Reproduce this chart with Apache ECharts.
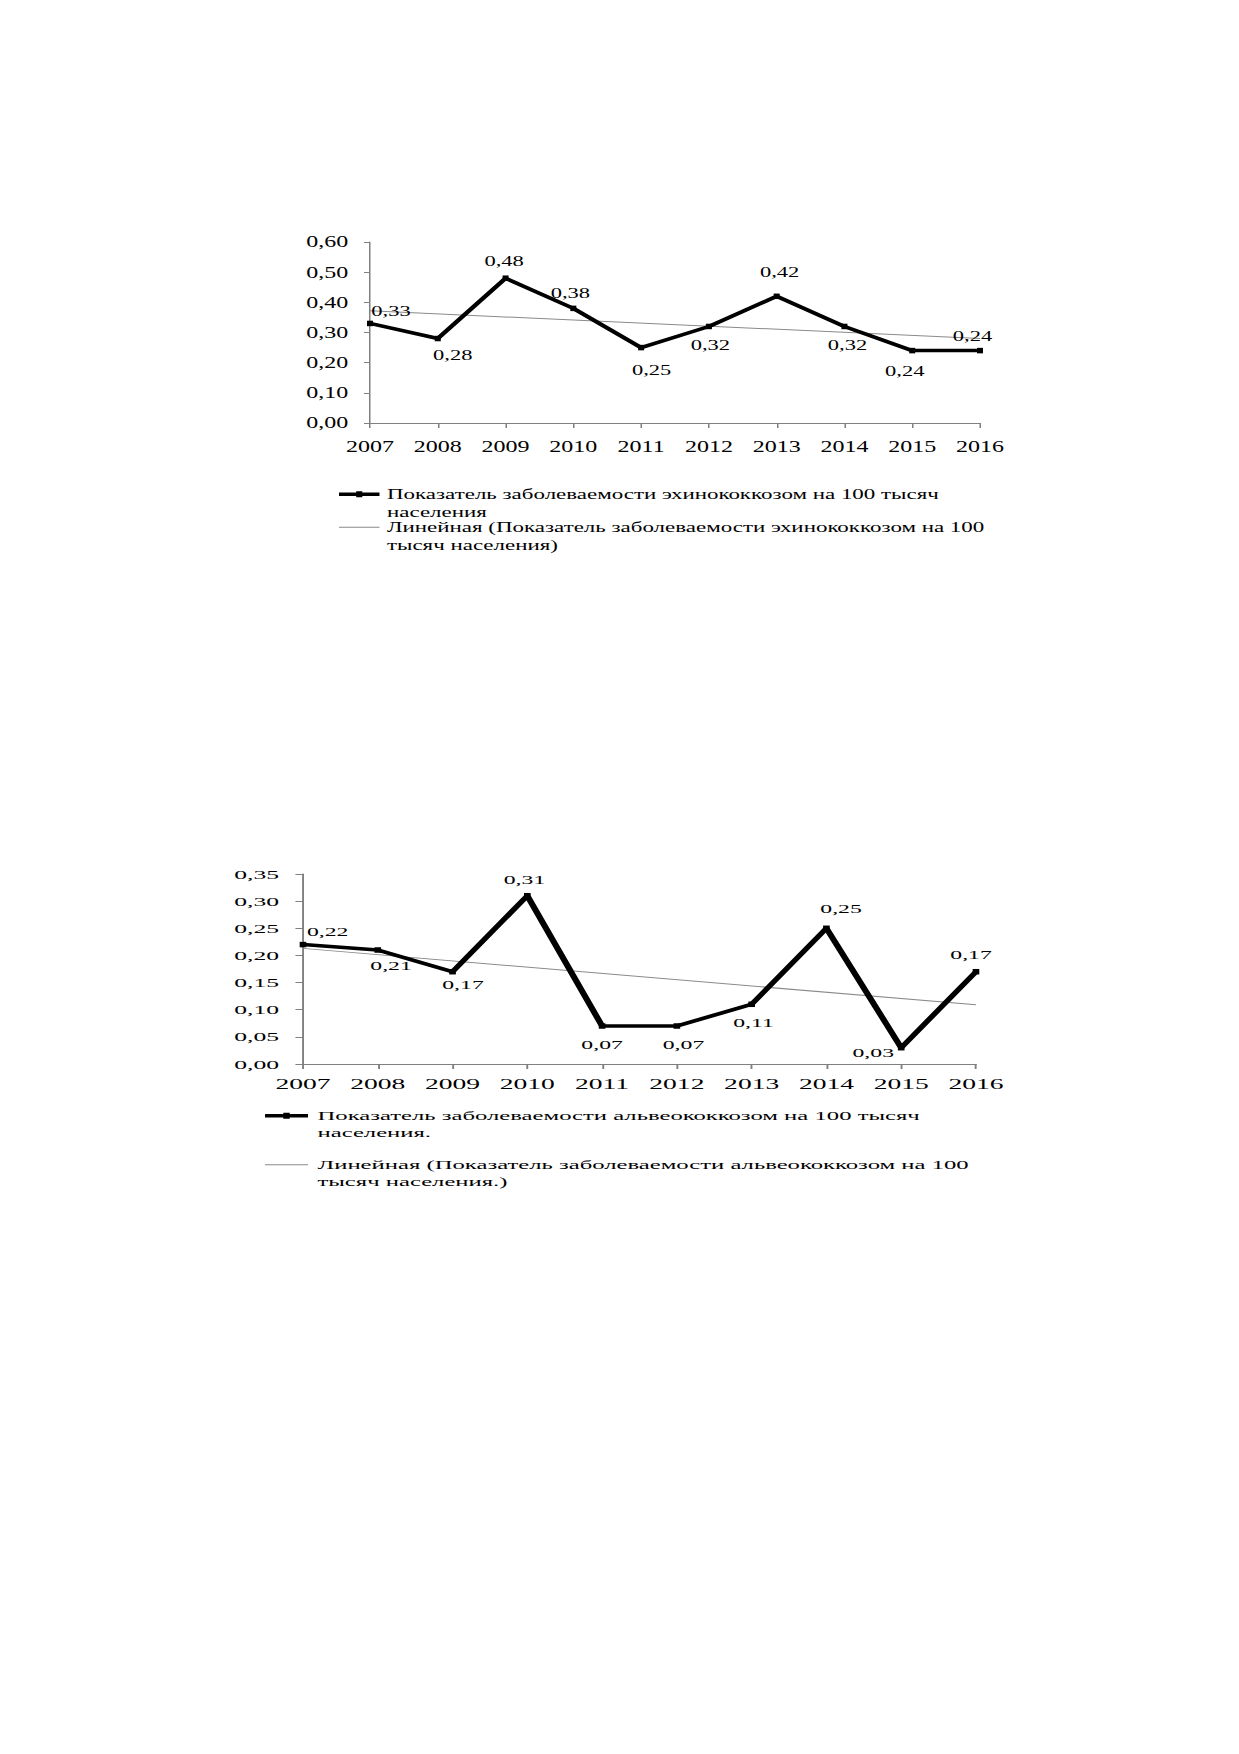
<!DOCTYPE html>
<html><head><meta charset="utf-8">
<script src="https://cdn.jsdelivr.net/npm/echarts@6/dist/echarts.min.js"></script>
<style>
html,body{margin:0;padding:0;background:#fff;width:1239px;height:1754px;overflow:hidden}
#c1{position:absolute;left:0;top:0;width:826px;height:700px;transform:scaleX(1.5);transform-origin:0 0}
#c2{position:absolute;left:0;top:700px;width:652px;height:600px;transform:scaleX(1.9);transform-origin:0 0}
</style></head><body>
<div id="c1"></div><div id="c2"></div>
<script>
// ---- data ----
const years = ['2007','2008','2009','2010','2011','2012','2013','2014','2015','2016'];
const echinoRate = [0.33, 0.28, 0.48, 0.38, 0.25, 0.32, 0.42, 0.32, 0.24, 0.24];
const echinoTrend = [0.372, 0.280];           // trend line value at 2007 and at 2016
const echinoAxis = [0, 0.6, 0.1];             // min, max, step of the value axis
const alveoRate = [0.22, 0.21, 0.17, 0.31, 0.07, 0.07, 0.11, 0.25, 0.03, 0.17];
const alveoTrend = [0.213, 0.109];
const alveoAxis = [0, 0.35, 0.05];
const echinoNames = ['Показатель заболеваемости эхинококкозом на 100 тысяч\nнаселения',
                     'Линейная (Показатель заболеваемости эхинококкозом на 100\nтысяч населения)'];
const alveoNames = ['Показатель заболеваемости альвеококкозом на 100 тысяч\nнаселения.',
                    'Линейная (Показатель заболеваемости альвеококкозом на 100\nтысяч населения.)'];

const FONT = 'Liberation Serif';
function fmt(v){ return Number(v).toFixed(2).replace('.', ','); }
const MAIN_ICON = 'path://M0,1.25L40,1.25L40,4.75L0,4.75Z M17,0L23,0L23,6L17,6Z';

function build(cfg){
  const axisCol = '#808080';
  const legendBase = (name, top, icon, h) => ({
    orient:'vertical', left:cfg.legendLeft, top:top, padding:0, itemGap:0,
    itemWidth:cfg.iconW, itemHeight:h, icon:icon, symbolKeepAspect:false,
    selectedMode:false, data:[name],
    formatter: n => n.split('\n').map(s => '{t|' + s + '}').join('\n'),
    textStyle:{fontFamily:FONT, fontSize:cfg.legendFont, color:'#000',
               lineHeight:cfg.legendLH, padding:[cfg.legendLH,0,0,0],
               rich:{t:{fontFamily:FONT, fontSize:cfg.legendFont, color:'#000', lineHeight:cfg.legendLH}}}
  });
  return {
    animation:false,
    backgroundColor:'transparent',
    textStyle:{fontFamily:FONT, color:'#000'},
    grid:{left:cfg.left, top:cfg.top, width:cfg.width, height:cfg.height, containLabel:false},
    xAxis:{type:'category', data:years, boundaryGap:false,
      axisLine:{show:true, lineStyle:{color:axisCol, width:1}},
      axisTick:{show:true, length:5, lineStyle:{color:axisCol}},
      axisLabel:{interval:0, margin:cfg.xMargin, fontSize:cfg.xFont, color:'#000', fontFamily:FONT},
      splitLine:{show:false}},
    yAxis:{type:'value', min:cfg.axis[0], max:cfg.axis[1], interval:cfg.axis[2],
      axisLine:{show:true, lineStyle:{color:axisCol, width:1}},
      axisTick:{show:true, length:4, lineStyle:{color:axisCol}},
      axisLabel:{formatter:fmt, margin:cfg.yMargin, fontSize:cfg.yFont, color:'#000', fontFamily:FONT},
      splitLine:{show:false}},
    legend:[legendBase(cfg.names[0], cfg.legendTops[0], MAIN_ICON, 6),
            legendBase(cfg.names[1], cfg.legendTops[1], 'rect', 1.2)],
    series:[
      {type:'line', name:cfg.names[1], z:2, silent:true, symbol:'none',
       data:[[years[0], cfg.trend[0]], [years[years.length-1], cfg.trend[1]]],
       lineStyle:{color:'#8a8a8a', width:1}, itemStyle:{color:'#8a8a8a'}},
      {type:'line', name:cfg.names[0], z:3, symbol:'rect', symbolSize:cfg.sym, showSymbol:true,
       data:cfg.rate.map((v,i)=>({value:v, label:{offset:cfg.offsets[i]}})),
       lineStyle:{color:'#000', width:3.5}, itemStyle:{color:'#000'},
       label:{show:true, position:'inside', align:'center', verticalAlign:'middle',
              formatter:p=>fmt(p.value), fontSize:cfg.dataFont, color:'#000', fontFamily:FONT}}
    ]
  };
}

const c1 = echarts.init(document.getElementById('c1'), null, {renderer:'svg'});
c1.setOption(build({
  left:246.67, top:242, width:406.67, height:181, axis:echinoAxis,
  rate:echinoRate, trend:echinoTrend, names:echinoNames, sym:[4,5.5],
  xFont:16, yFont:16, dataFont:15, xMargin:16, yMargin:14.5,
  legendLeft:226, legendTops:[468,501], iconW:27, legendFont:15.3, legendLH:17.5,
  offsets:[[14,-13],[10,16],[-1,-17],[-2,-15],[7,22],[1,18],[2,-24],[2,18],[-5,20],[-5,-15]]
}));

const c2 = echarts.init(document.getElementById('c2'), null, {renderer:'svg'});
c2.setOption(build({
  left:159.47, top:174, width:354.2, height:190, axis:alveoAxis,
  rate:alveoRate, trend:alveoTrend, names:alveoNames, sym:[3.5,5.5],
  xFont:14.5, yFont:13.5, dataFont:12.5, xMargin:13, yMargin:12.6,
  legendLeft:139.5, legendTops:[391,440], iconW:22.6, legendFont:13, legendLH:16.5,
  offsets:[[13,-13],[7,16],[5.5,13],[-1.5,-16],[0,19],[3.5,19],[1,18],[7.7,-20],[-14.7,5],[-2.6,-17]]
}));
</script>
</body></html>
